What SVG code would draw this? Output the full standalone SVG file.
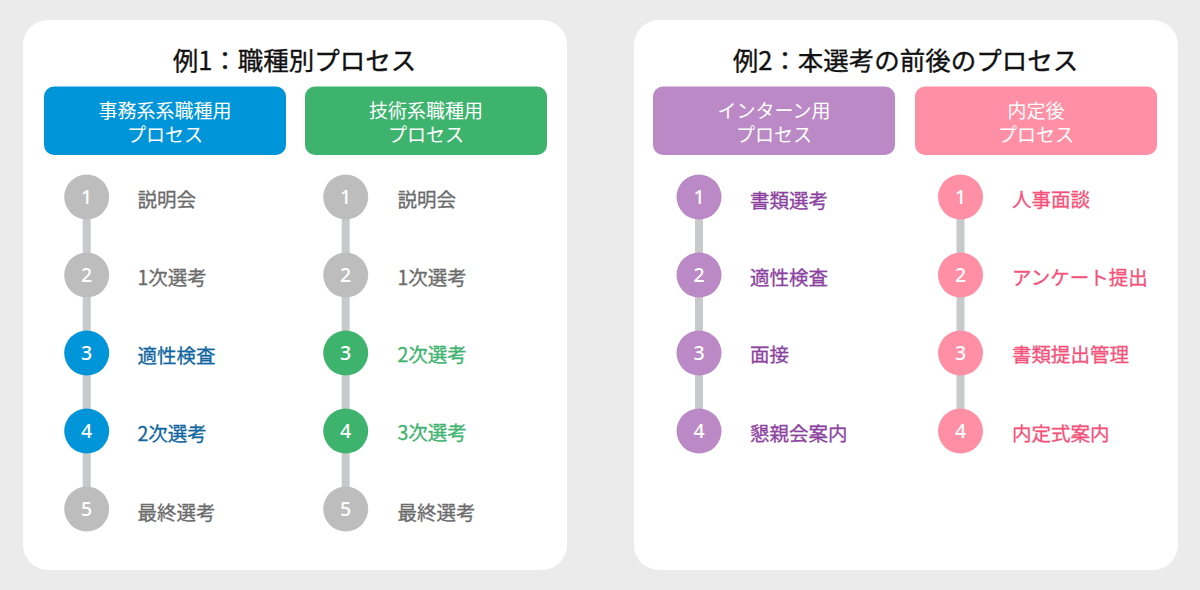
<svg xmlns="http://www.w3.org/2000/svg" width="1200" height="590" viewBox="0 0 1200 590">
<style>
text{font-family:"Noto Sans CJK JP","Noto Sans",sans-serif}
.title{font-size:25.5px;font-weight:400;fill:#111;text-anchor:middle;stroke:#111;stroke-width:0.35px}
.hd{font-size:19px;fill:#fff;text-anchor:middle}
.num{font-family:"Noto Sans","Noto Sans CJK JP",sans-serif;font-size:19.5px;font-weight:500;fill:#fff;text-anchor:middle}
.lb{font-size:19.5px;font-weight:400}
.gray{fill:#bdbdbd}.tgray{fill:#6b6b6b;stroke:#6b6b6b;stroke-width:0.3px}
.blue{fill:#0095d9}.tblue{fill:#10669f;stroke:#10669f;stroke-width:0.3px}
.green{fill:#3db36e}.tgreen{fill:#3db36e;stroke:#3db36e;stroke-width:0.3px}
.purple{fill:#bb89c6}.tpurple{fill:#8c43a0;stroke:#8c43a0;stroke-width:0.3px}
.pink{fill:#ff8fa5}.tpink{fill:#f4527a;stroke:#f4527a;stroke-width:0.3px}
.panel{fill:#fff}
.conn{stroke:#c8c9cb;stroke-width:8;fill:none}
</style>
<rect width="1200" height="590" fill="#ebebeb"/>
<g id="panel1">
<rect class="panel" x="23" y="20" width="544" height="550" rx="25"/>
<text class="title" x="294.5" y="70">例1：職種別プロセス</text>
</g>
<g id="panel2">
<rect class="panel" x="634" y="20" width="544" height="550" rx="25"/>
<text class="title" x="905.5" y="70">例2：本選考の前後のプロセス</text>
</g>
<g id="connectors">
<line class="conn" x1="86.7" y1="197" x2="86.7" y2="509"/>
<line class="conn" x1="345.7" y1="197" x2="345.7" y2="509"/>
<line class="conn" x1="699" y1="197" x2="699" y2="431"/>
<line class="conn" x1="960.5" y1="197" x2="960.5" y2="431"/>
</g>
<g id="header-jimu">
<rect class="blue" x="44" y="86.5" width="242" height="68.5" rx="10"/>
<text class="hd" x="165" y="118">事務系系職種用</text>
<text class="hd" x="165" y="142">プロセス</text>
</g>
<g id="header-gijutsu">
<rect class="green" x="305" y="86.5" width="242" height="68.5" rx="10"/>
<text class="hd" x="426" y="118">技術系職種用</text>
<text class="hd" x="426" y="142">プロセス</text>
</g>
<g id="header-intern">
<rect class="purple" x="653" y="86.5" width="242" height="68.5" rx="10"/>
<text class="hd" x="774" y="118">インターン用</text>
<text class="hd" x="774" y="142">プロセス</text>
</g>
<g id="header-naitei">
<rect class="pink" x="915" y="86.5" width="242" height="68.5" rx="10"/>
<text class="hd" x="1036" y="118">内定後</text>
<text class="hd" x="1036" y="142">プロセス</text>
</g>
<g id="a1"><circle class="gray" cx="86.7" cy="197" r="22.5"/><text class="num" x="86.7" y="204">1</text><text class="lb tgray" x="137.5" y="207">説明会</text></g>
<g id="a2"><circle class="gray" cx="86.7" cy="275" r="22.5"/><text class="num" x="86.7" y="282">2</text><text class="lb tgray" x="137.5" y="285">1次選考</text></g>
<g id="a3"><circle class="blue" cx="86.7" cy="353" r="22.5"/><text class="num" x="86.7" y="360">3</text><text class="lb tblue" x="137.5" y="363">適性検査</text></g>
<g id="a4"><circle class="blue" cx="86.7" cy="431" r="22.5"/><text class="num" x="86.7" y="438">4</text><text class="lb tblue" x="137.5" y="441">2次選考</text></g>
<g id="a5"><circle class="gray" cx="86.7" cy="509" r="22.5"/><text class="num" x="86.7" y="516">5</text><text class="lb tgray" x="137.5" y="520">最終選考</text></g>
<g id="b1"><circle class="gray" cx="345.7" cy="197" r="22.5"/><text class="num" x="345.7" y="204">1</text><text class="lb tgray" x="397.5" y="207">説明会</text></g>
<g id="b2"><circle class="gray" cx="345.7" cy="275" r="22.5"/><text class="num" x="345.7" y="282">2</text><text class="lb tgray" x="397.5" y="285">1次選考</text></g>
<g id="b3"><circle class="green" cx="345.7" cy="353" r="22.5"/><text class="num" x="345.7" y="360">3</text><text class="lb tgreen" x="397.5" y="362">2次選考</text></g>
<g id="b4"><circle class="green" cx="345.7" cy="431" r="22.5"/><text class="num" x="345.7" y="438">4</text><text class="lb tgreen" x="397.5" y="440">3次選考</text></g>
<g id="b5"><circle class="gray" cx="345.7" cy="509" r="22.5"/><text class="num" x="345.7" y="516">5</text><text class="lb tgray" x="397.5" y="520">最終選考</text></g>
<g id="c1"><circle class="purple" cx="699" cy="197" r="22.5"/><text class="num" x="699" y="204">1</text><text class="lb tpurple" x="750" y="208">書類選考</text></g>
<g id="c2"><circle class="purple" cx="699" cy="275" r="22.5"/><text class="num" x="699" y="282">2</text><text class="lb tpurple" x="750" y="285">適性検査</text></g>
<g id="c3"><circle class="purple" cx="699" cy="353" r="22.5"/><text class="num" x="699" y="360">3</text><text class="lb tpurple" x="750" y="362">面接</text></g>
<g id="c4"><circle class="purple" cx="699" cy="431" r="22.5"/><text class="num" x="699" y="438">4</text><text class="lb tpurple" x="750" y="441">懇親会案内</text></g>
<g id="d1"><circle class="pink" cx="960.5" cy="197" r="22.5"/><text class="num" x="960.5" y="204">1</text><text class="lb tpink" x="1012" y="207">人事面談</text></g>
<g id="d2"><circle class="pink" cx="960.5" cy="275" r="22.5"/><text class="num" x="960.5" y="282">2</text><text class="lb tpink" x="1012" y="285">アンケート提出</text></g>
<g id="d3"><circle class="pink" cx="960.5" cy="353" r="22.5"/><text class="num" x="960.5" y="360">3</text><text class="lb tpink" x="1012" y="362">書類提出管理</text></g>
<g id="d4"><circle class="pink" cx="960.5" cy="431" r="22.5"/><text class="num" x="960.5" y="438">4</text><text class="lb tpink" x="1012" y="441">内定式案内</text></g>
</svg>
